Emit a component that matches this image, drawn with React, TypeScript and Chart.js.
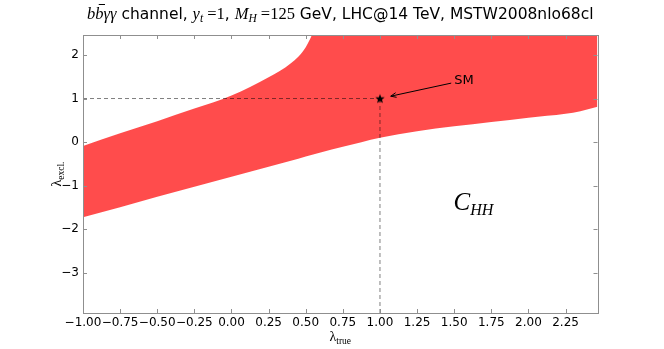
import React, { useEffect, useRef } from "react";
import { Chart, registerables } from "chart.js";

Chart.register(...registerables);

// ---- data ----
const xValues = [-1, -0.75, -0.5, -0.25, 0, 0.25, 0.4, 0.5, 0.6, 0.75, 1, 1.25, 1.5, 1.75, 2, 2.25, 2.35, 2.465];
const lowerValues = [-1.73, -1.5, -1.26, -1.03, -0.8, -0.57, -0.43, -0.33, -0.24, -0.11, 0.1, 0.25, 0.36, 0.46, 0.56, 0.65, 0.71, 0.81];
const upperValues = [-0.09, 0.2, 0.48, 0.77, 1.07, 1.49, 1.81, 2.18, 2.9, 3.8, 4.8, 5.5, 6.0, 6.4, 6.8, 7.1, 7.2, 7.3];

const xTicks = [-1, -0.75, -0.5, -0.25, 0, 0.25, 0.5, 0.75, 1, 1.25, 1.5, 1.75, 2, 2.25];
const yTicks = [-3, -2, -1, 0, 1, 2];

const xMin = -1;
const xMax = 2.465;
const yMin = -3.93;
const yMax = 2.46;

const smPoint = { x: 1, y: 1 };
const smLabel = "SM";
const smTextPos = { x: 1.5, y: 1.4 };
const cHHPos = { x: 1.63, y: -1.37 };

const fmtTick = (v: number, d: number) => (v < 0 ? "\u2212" : "") + Math.abs(v).toFixed(d);

type Seg = { t: string; font: string; dy?: number; bar?: boolean };

function segWidth(ctx: CanvasRenderingContext2D, segs: Seg[]) {
  let w = 0;
  for (const s of segs) {
    ctx.font = s.font;
    w += ctx.measureText(s.t).width;
  }
  return w;
}

function drawSegs(ctx: CanvasRenderingContext2D, segs: Seg[], x: number, y: number) {
  let cx = x;
  for (const s of segs) {
    ctx.font = s.font;
    ctx.fillText(s.t, cx, y + (s.dy || 0));
    const w = ctx.measureText(s.t).width;
    if (s.bar) ctx.fillRect(cx + 3.5, y - 15, w - 2, 1);
    cx += w;
  }
}

const SERIF = '"Liberation Serif"';
const SANS = '"DejaVu Sans"';

const titleSegs: Seg[] = [
  { t: "b", font: `italic 16.5px ${SERIF}` },
  { t: "b", font: `italic 16.5px ${SERIF}`, bar: true },
  { t: "\u03B3\u03B3", font: `italic 16.5px ${SERIF}` },
  { t: " channel, ", font: `15.5px ${SANS}` },
  { t: "y", font: `italic 16.5px ${SERIF}` },
  { t: "t", font: `italic 11.5px ${SERIF}`, dy: 3 },
  { t: " =1", font: `16.5px ${SERIF}` },
  { t: ", ", font: `15.5px ${SANS}` },
  { t: "M", font: `italic 16.5px ${SERIF}` },
  { t: "H", font: `italic 11.5px ${SERIF}`, dy: 3 },
  { t: " =125", font: `16.5px ${SERIF}` },
  { t: " GeV, LHC@14 TeV, MSTW2008nlo68cl", font: `15.5px ${SANS}` },
];

const xLabelSegs: Seg[] = [
  { t: "\u03BB", font: `14px ${SERIF}` },
  { t: "true", font: `9.5px ${SERIF}`, dy: 3 },
];
const yLabelSegs: Seg[] = [
  { t: "\u03BB", font: `14px ${SERIF}` },
  { t: "excl.", font: `9.5px ${SERIF}`, dy: 3 },
];
const cHHSegs: Seg[] = [
  { t: "C", font: `italic 25px ${SERIF}` },
  { t: "HH", font: `italic 16px ${SERIF}`, dy: 5 },
];

const FRAME = "#8f8f8f";

const decorPlugin = {
  id: "decor",
  afterDraw(chart: any) {
    const ctx: CanvasRenderingContext2D = chart.ctx;
    const a = chart.chartArea;
    const xs = chart.scales.x;
    const ys = chart.scales.y;
    ctx.save();
    // frame
    ctx.strokeStyle = FRAME;
    ctx.lineWidth = 1;
    ctx.strokeRect(Math.round(a.left) + 0.5, Math.round(a.top) + 0.5, Math.round(a.right - a.left), Math.round(a.bottom - a.top));
    // inward ticks on four sides
    ctx.beginPath();
    for (const v of xTicks) {
      const px = Math.round(xs.getPixelForValue(v)) + 0.5;
      ctx.moveTo(px, a.bottom);
      ctx.lineTo(px, a.bottom - 4);
      ctx.moveTo(px, a.top);
      ctx.lineTo(px, a.top + 4);
    }
    for (const v of yTicks) {
      const py = Math.round(ys.getPixelForValue(v)) + 0.5;
      ctx.moveTo(a.left, py);
      ctx.lineTo(a.left + 4, py);
      ctx.moveTo(a.right, py);
      ctx.lineTo(a.right - 4, py);
    }
    ctx.stroke();

    ctx.fillStyle = "#000";
    ctx.textBaseline = "alphabetic";
    ctx.textAlign = "left";
    // title
    const cx = (a.left + a.right) / 2;
    const tw = segWidth(ctx, titleSegs);
    drawSegs(ctx, titleSegs, cx - tw / 2, 19);
    // x label
    const xw = segWidth(ctx, xLabelSegs);
    drawSegs(ctx, xLabelSegs, cx - xw / 2, 341);
    // y label (rotated)
    const yw = segWidth(ctx, yLabelSegs);
    ctx.save();
    ctx.translate(61, (a.top + a.bottom) / 2);
    ctx.rotate(-Math.PI / 2);
    drawSegs(ctx, yLabelSegs, -yw / 2, 0);
    ctx.restore();
    // C_HH
    const cw = segWidth(ctx, cHHSegs);
    drawSegs(ctx, cHHSegs, xs.getPixelForValue(cHHPos.x) - cw / 2, ys.getPixelForValue(cHHPos.y) + 8);
    // SM annotation
    const tx = xs.getPixelForValue(smTextPos.x);
    const ty = ys.getPixelForValue(smTextPos.y);
    ctx.font = `13px ${SANS}`;
    ctx.textBaseline = "middle";
    ctx.fillText(smLabel, tx, ty);
    const sx = tx - 3;
    const sy = ty + 2;
    const px = xs.getPixelForValue(smPoint.x);
    const py = ys.getPixelForValue(smPoint.y);
    const dx = sx - px;
    const dy = sy - py;
    const len = Math.hypot(dx, dy);
    const ex = px + (dx / len) * 11;
    const ey = py + (dy / len) * 11;
    ctx.strokeStyle = "#000";
    ctx.lineWidth = 1;
    ctx.beginPath();
    ctx.moveTo(sx, sy);
    ctx.lineTo(ex, ey);
    const ang = Math.atan2(ey - sy, ex - sx);
    const hl = 6;
    ctx.moveTo(ex - hl * Math.cos(ang - 0.4), ey - hl * Math.sin(ang - 0.4));
    ctx.lineTo(ex, ey);
    ctx.lineTo(ex - hl * Math.cos(ang + 0.4), ey - hl * Math.sin(ang + 0.4));
    ctx.stroke();
    ctx.restore();
  },
};

function makeStar(): HTMLCanvasElement {
  const c = document.createElement("canvas");
  c.width = 12;
  c.height = 12;
  const g = c.getContext("2d")!;
  g.fillStyle = "#000";
  g.beginPath();
  for (let i = 0; i < 10; i++) {
    const r = i % 2 === 0 ? 5 : 2.1;
    const ang = -Math.PI / 2 + (i * Math.PI) / 5;
    const x = 6 + r * Math.cos(ang);
    const y = 6.4 + r * Math.sin(ang);
    if (i === 0) g.moveTo(x, y);
    else g.lineTo(x, y);
  }
  g.closePath();
  g.fill();
  return c;
}

export default function App() {
  const ref = useRef<HTMLCanvasElement | null>(null);

  useEffect(() => {
    if (!ref.current) return;
    const lower = xValues.map((x, i) => ({ x, y: lowerValues[i] }));
    const upper = xValues.map((x, i) => ({ x, y: upperValues[i] }));
    const tickFont = { family: "DejaVu Sans", size: 12 };
    const chart = new Chart(ref.current, {
      type: "line",
      data: {
        datasets: [
          {
            data: lower,
            borderColor: "rgba(0,0,0,0)",
            borderWidth: 0,
            pointRadius: 0,
            fill: false,
            cubicInterpolationMode: "monotone",
            order: 3,
          },
          {
            data: upper,
            borderColor: "rgba(0,0,0,0)",
            backgroundColor: "rgba(255,0,0,0.7)",
            borderWidth: 0,
            pointRadius: 0,
            fill: 0,
            cubicInterpolationMode: "monotone",
            order: 3,
          },
          {
            data: [
              { x: xMin, y: smPoint.y },
              { x: smPoint.x, y: smPoint.y },
            ],
            borderColor: "rgba(0,0,0,0.5)",
            borderWidth: 1,
            borderDash: [4, 3],
            pointRadius: 0,
            fill: false,
            order: 1,
          },
          {
            data: [
              { x: smPoint.x, y: yMin },
              { x: smPoint.x, y: smPoint.y },
            ],
            borderColor: "rgba(0,0,0,0.5)",
            borderWidth: 1,
            borderDash: [4, 3],
            pointRadius: 0,
            fill: false,
            order: 1,
          },
          {
            data: [{ x: smPoint.x, y: smPoint.y }],
            showLine: false,
            pointStyle: makeStar() as any,
            pointRadius: 6,
            order: 0,
          },
        ],
      },
      options: {
        responsive: false,
        devicePixelRatio: 1,
        animation: false,
        events: [],
        layout: { padding: { left: 0, top: 35, right: 66.5, bottom: 0 } },
        plugins: {
          legend: { display: false },
          tooltip: { enabled: false },
          title: { display: false },
        },
        scales: {
          x: {
            type: "linear",
            min: xMin,
            max: xMax,
            grid: { display: false, drawTicks: false },
            border: { display: false },
            afterBuildTicks: (s: any) => {
              s.ticks = xTicks.map((v) => ({ value: v }));
            },
            afterFit: (s: any) => {
              s.height = 36;
            },
            ticks: {
              autoSkip: false,
              maxRotation: 0,
              minRotation: 0,
              padding: 3,
              color: "#000",
              font: tickFont,
              callback: (v: any) => fmtTick(Number(v), 2),
            },
          },
          y: {
            type: "linear",
            min: yMin,
            max: yMax,
            grid: { display: false, drawTicks: false },
            border: { display: false },
            afterBuildTicks: (s: any) => {
              s.ticks = yTicks.map((v) => ({ value: v }));
            },
            afterFit: (s: any) => {
              s.width = 83;
            },
            ticks: {
              autoSkip: false,
              padding: 4,
              color: "#000",
              font: tickFont,
              callback: (v: any) => fmtTick(Number(v), 0),
            },
          },
        },
      },
      plugins: [decorPlugin],
    } as any);
    return () => chart.destroy();
  }, []);

  return (
    <div style={{ position: "fixed", left: 0, top: 0, width: 664, height: 349, background: "#fff" }}>
      <canvas ref={ref} width={664} height={349} style={{ display: "block", width: 664, height: 349 }} />
    </div>
  );
}
